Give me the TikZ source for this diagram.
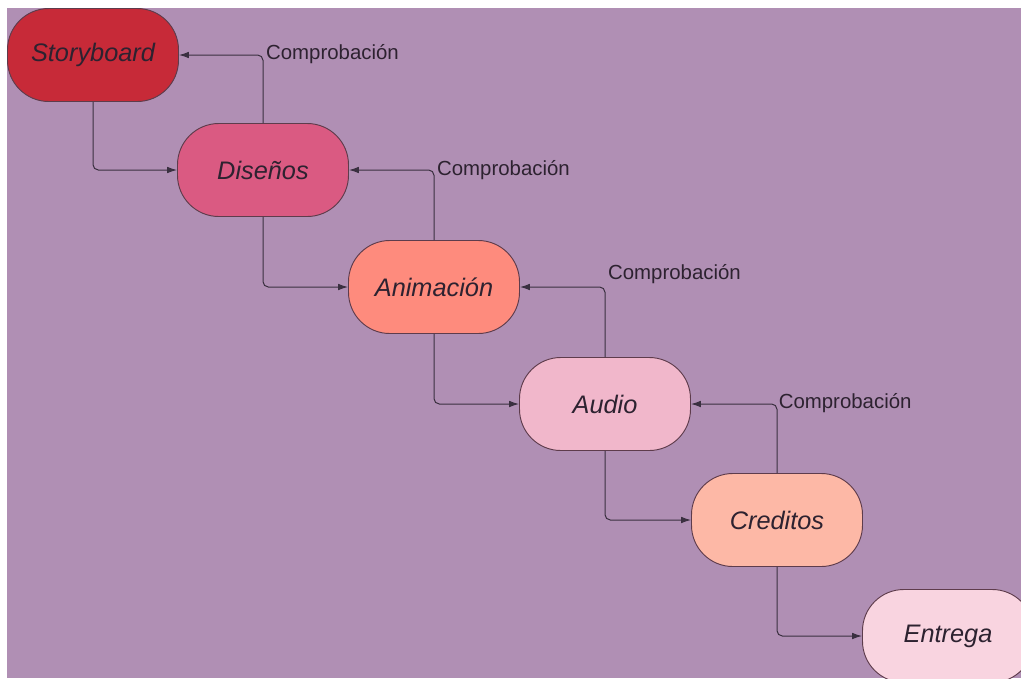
\documentclass[tikz,border=0pt]{standalone}
\usepackage{fontspec}
\setmainfont{Liberation Sans}
\usetikzlibrary{arrows.meta}

\definecolor{fondo}{HTML}{B08FB4}
\definecolor{linea}{HTML}{3A3040}
\definecolor{borde}{HTML}{5E3C4C}
\definecolor{texto}{HTML}{2D2230}
\definecolor{cStory}{HTML}{C72A38}
\definecolor{cDis}{HTML}{DA5A82}
\definecolor{cAnim}{HTML}{FE8B7D}
\definecolor{cAudio}{HTML}{F1B7CB}
\definecolor{cCred}{HTML}{FDB8A6}
\definecolor{cEntr}{HTML}{F9D4E0}

\tikzset{
  etapa/.style={draw=borde, line width=0.7pt, rounded corners=31pt,
    minimum width=128.25pt, minimum height=69.75pt, inner sep=0pt,
    text=texto, font=\fontsize{19}{22}\selectfont\itshape},
  enlace/.style={draw=linea, line width=0.75pt, rounded corners=4pt,
    -{Latex[length=7.5pt,width=5pt]}},
  nota/.style={text=texto, font=\fontsize{15.3}{18}\selectfont, inner sep=0pt}
}

\begin{document}
\begin{tikzpicture}[x=0.75pt,y=-0.75pt]
			\useasboundingbox (0,0) rectangle (1021,679);
			\fill[white] (0,0) rectangle (1021,679);
			\fill[fondo] (7,8) rectangle (1021,678);
			\begin{scope}
			\clip (7,8) rectangle (1021,678);
			\node[etapa, fill=cStory] (story) at (93,55) {Storyboard};
			\node[etapa, fill=cDis] (dis) at (263,170) {Diseños};
			\node[etapa, fill=cAnim] (anim) at (434,287) {Animación};
			\node[etapa, fill=cAudio] (audio) at (605,404) {Audio};
			\node[etapa, fill=cCred] (cred) at (777,520) {Creditos};
			\node[etapa, fill=cEntr] (entr) at (948,636) {Entrega};
			\end{scope}
			% hacia delante
			\draw[enlace] (story.south) |- (dis.west);
			\draw[enlace] (dis.south) |- (anim.west);
			\draw[enlace] (anim.south) |- (audio.west);
			\draw[enlace] (audio.south) |- (cred.west);
			\draw[enlace] (cred.south) |- (entr.west);
			% comprobaciones
			\draw[enlace] (dis.north) |- (story.east)
				node[nota, pos=0.5, anchor=west, xshift=2pt, yshift=1pt] {Comprobación};
			\draw[enlace] (anim.north) |- (dis.east)
				node[nota, pos=0.5, anchor=west, xshift=2pt, yshift=0pt] {Comprobación};
			\draw[enlace] (audio.north) |- (anim.east)
				node[nota, pos=0.5, anchor=west, xshift=2pt, yshift=10pt] {Comprobación};
			\draw[enlace] (cred.north) |- (audio.east)
				node[nota, pos=0.5, anchor=west, xshift=1pt, yshift=1pt] {Comprobación};
		\end{tikzpicture}
\end{document}
